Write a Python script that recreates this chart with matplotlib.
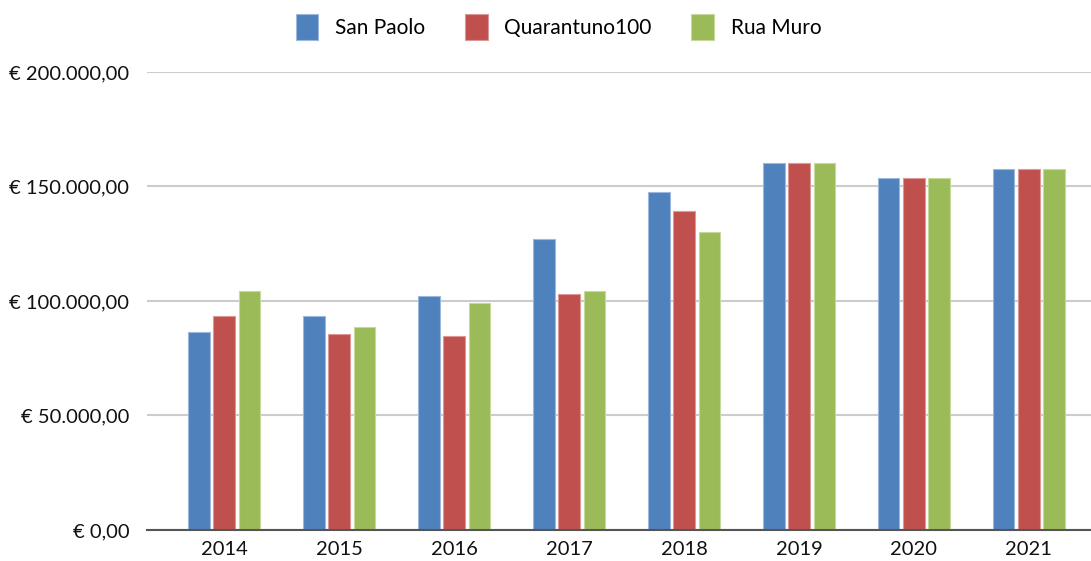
import matplotlib.pyplot as plt
import numpy as np

years = ['2014', '2015', '2016', '2017', '2018', '2019', '2020', '2021']
san_paolo = [86400, 93500, 102200, 126900, 147400, 160100, 153500, 157600]
quarantuno = [93600, 85600, 84800, 102900, 139400, 160100, 153500, 157600]
rua_muro = [104500, 88700, 99000, 104500, 130000, 160100, 153500, 157600]

y_ticks = [0, 50000, 100000, 150000, 200000]
y_labels = ['€ 0,00', '€ 50.000,00', '€ 100.000,00', '€ 150.000,00', '€ 200.000,00']

plt.rcParams['font.family'] = ['Lato', 'DejaVu Sans']

fig = plt.figure(figsize=(10.91, 5.61), dpi=100)
ax = fig.add_axes([0.135, 0.0553, 0.865, 0.8164])

x = np.arange(len(years))
step = 0.22
width = 0.188
series = [('San Paolo', san_paolo, '#4F81BD', '#9db8dc'),
          ('Quarantuno100', quarantuno, '#C0504D', '#dc9896'),
          ('Rua Muro', rua_muro, '#9BBB59', '#c6da9e')]
for i, (name, vals, col, edge) in enumerate(series):
    ax.bar(x + (i - 1) * step, vals, width, color=col, edgecolor=edge,
           linewidth=0.8, label=name, zorder=3)

ax.set_ylim(0, 200000)
ax.set_xlim(-0.67, 7.54)
ax.set_yticks(y_ticks)
ax.set_yticklabels(y_labels)
ax.set_xticks(x)
ax.set_xticklabels(years)
ax.tick_params(axis='both', length=0, labelsize=14.5, colors='#111111')
ax.tick_params(axis='y', pad=13)
ax.tick_params(axis='x', pad=8)

ax.grid(axis='y', color='#cccccc', linewidth=1.5, zorder=0)
for s in ['top', 'right', 'left']:
    ax.spines[s].set_visible(False)
ax.spines['bottom'].set_color('#555555')
ax.spines['bottom'].set_linewidth(1.5)
ax.spines['bottom'].set_zorder(4)

fig.legend(loc='center', bbox_to_anchor=(0.512, 0.952), ncol=3, frameon=False,
           fontsize=15, handlelength=1.1, handleheight=1.5, columnspacing=1.9,
           handletextpad=0.8)

fig.savefig('out.png', dpi=100)
